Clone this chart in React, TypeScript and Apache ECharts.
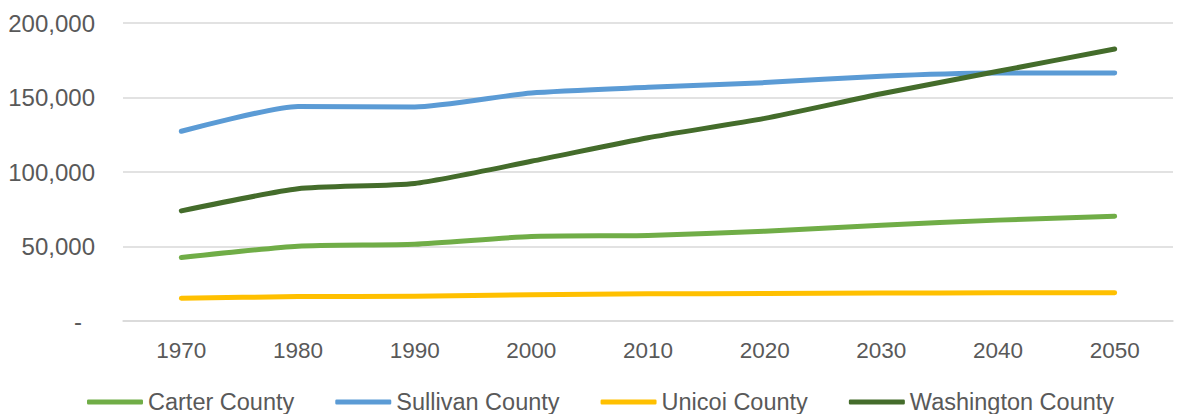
import React, { useEffect, useRef } from "react";
import * as echarts from "echarts";

const years = ["1970", "1980", "1990", "2000", "2010", "2020", "2030", "2040", "2050"];
const carter = [42575, 50205, 51505, 56742, 57424, 60300, 64300, 67700, 70300];
const sullivan = [127329, 143968, 143596, 153048, 156823, 160000, 164300, 166400, 166500];
const unicoi = [15254, 16362, 16549, 17667, 18313, 18400, 18800, 18900, 19000];
const washington = [73924, 88755, 92315, 107198, 122979, 136000, 152500, 167600, 182500];

const names = ["Carter County", "Sullivan County", "Unicoi County", "Washington County"];
const colors = ["#70AD47", "#5B9BD5", "#FFC000", "#446C2B"];

export default function App() {
  const ref = useRef<HTMLDivElement>(null);
  useEffect(() => {
    document.body.style.margin = "0";
    const chart = echarts.init(ref.current!, null, { renderer: "svg" });
    const dataSets = [carter, sullivan, unicoi, washington];
    chart.setOption({
      animation: false,
      textStyle: { fontFamily: "Liberation Sans, Arial, sans-serif" },
      grid: { left: 123, right: 7, top: 23, bottom: 93, containLabel: false },
      legend: {
        left: 82,
        top: 385,
        itemWidth: 56,
        itemHeight: 5,
        itemGap: 41,
        icon: "roundRect",
        textStyle: { color: "#595959", fontSize: 23.5, fontFamily: "Liberation Sans, Arial, sans-serif" },
        data: names,
      },
      xAxis: {
        type: "category",
        data: years,
        boundaryGap: true,
        axisLine: { lineStyle: { color: "#D9D9D9", width: 1.5 } },
        axisTick: { show: false },
        axisLabel: { color: "#595959", fontSize: 22.5, margin: 18 },
      },
      yAxis: {
        type: "value",
        min: 0,
        max: 200000,
        interval: 50000,
        axisLine: { show: false },
        axisTick: { show: false },
        splitLine: { lineStyle: { color: "#D9D9D9", width: 1.5 } },
        axisLabel: {
          color: "#595959",
          fontSize: 24,
          margin: 28,
          formatter: (v: number) => (v === 0 ? "{d|-}" : v.toLocaleString("en-US")),
          rich: { d: { color: "#595959", fontSize: 24, padding: [0, 13, 0, 0] } },
        },
      },
      series: dataSets.map((d, i) => ({
        name: names[i],
        type: "line",
        data: d,
        smooth: 0.2,
        showSymbol: false,
        symbol: "none",
        color: colors[i],
        lineStyle: { width: 5, color: colors[i], cap: "round", join: "round" },
        itemStyle: { color: colors[i] },
      })),
    });
    return () => chart.dispose();
  }, []);
  return <div ref={ref} style={{ width: 1180, height: 414 }} />;
}
